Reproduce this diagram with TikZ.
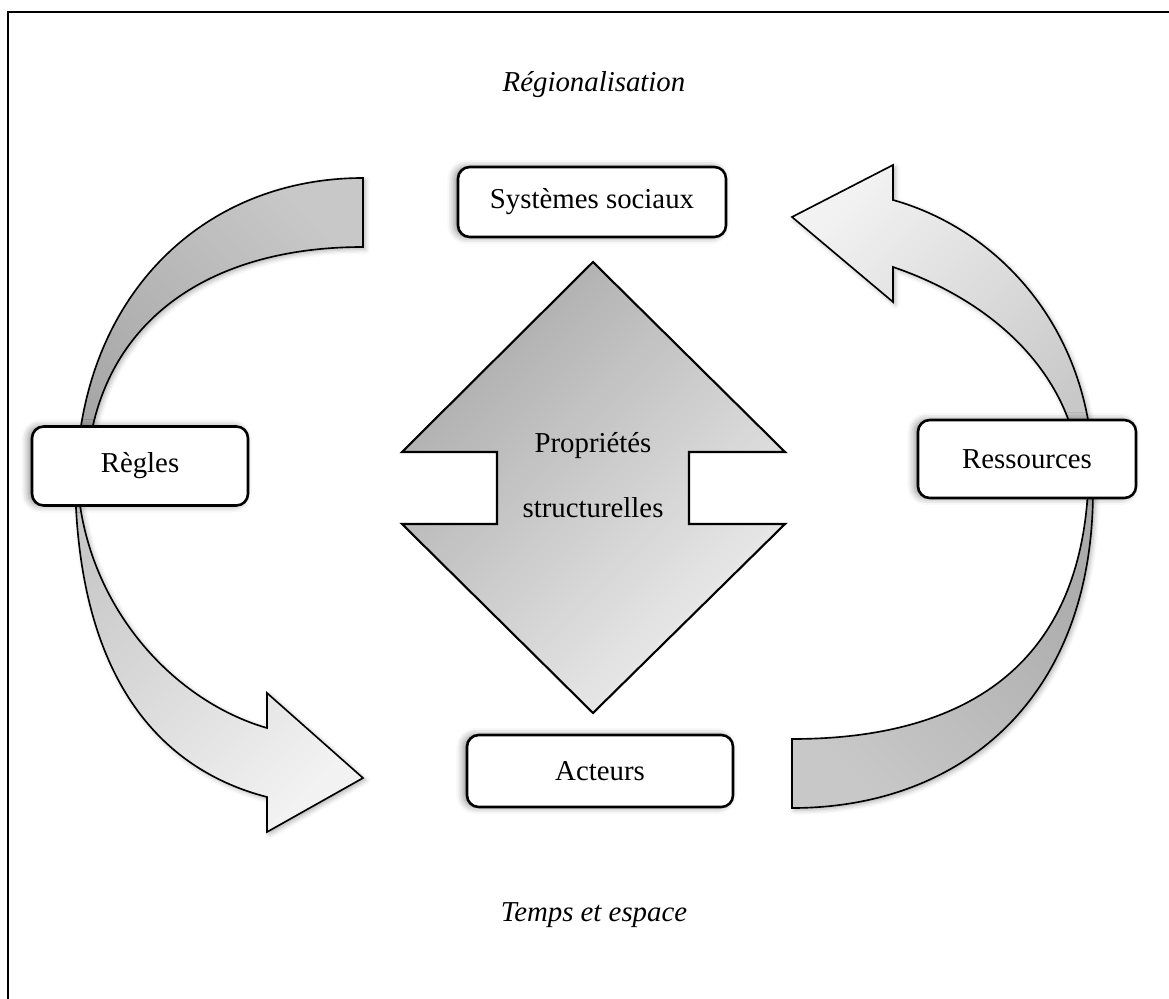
\documentclass[tikz,border=0pt]{standalone}
\usepackage{fontspec}
\setmainfont{Liberation Serif}
\usetikzlibrary{positioning,shadows.blur}
\definecolor{grisA}{HTML}{A6A6A6}
\definecolor{grisB}{HTML}{C8C8C8}
\definecolor{grisC}{HTML}{F2F2F2}
\definecolor{grisD}{HTML}{ABABAB}
\definecolor{grisE}{HTML}{EEEEEE}

\begin{document}
\begin{tikzpicture}
[x=0.015cm,y=-0.015cm,
 box/.style = {draw, line width=1.1pt, rounded corners=5pt, fill=white, inner sep=0pt,
   font=\fontsize{12.3}{15}\selectfont,
   blur shadow={shadow xshift=-1.5pt, shadow yshift=0pt, shadow blur radius=3pt, shadow opacity=45}},
 band/.style = {draw, line width=0.7pt,
   blur shadow={shadow xshift=1pt, shadow yshift=-1pt, shadow blur radius=2pt, shadow opacity=30}},
 legend/.style = {font=\itshape\fontsize{12.3}{15}\selectfont},]
\useasboundingbox (0,0) rectangle (1169,999);
\draw[line width=1pt] (8,999) -- (8,12) -- (1169,12);
% bandes de gauche
\path[band, top color=grisB, bottom color=grisA, shading angle=-45]
  (363,178) .. controls (200,178) and (76,300) .. (76,490) -- (86,490)
  .. controls (86,330) and (200,247) .. (363,247) -- cycle;
\path[band, top color=grisB, bottom color=grisC, shading angle=45]
  (75,470) .. controls (75,690) and (170,772) .. (267,797) -- (267,832) -- (363,778)
  -- (267,693) -- (267,728) .. controls (170,700) and (80,600) .. (77,470) -- cycle;
% bandes de droite
\path[band, top color=grisC, bottom color=grisB, shading angle=45]
  (893,200) .. controls (1000,230) and (1090,330) .. (1093,470) -- (1080,470)
  .. controls (1070,370) and (990,300) .. (893,267) -- (893,302) -- (792,217)
  -- (893,165) -- cycle;
\path[band, top color=grisD, bottom color=grisB, shading angle=-45]
  (1093,490) .. controls (1093,700) and (960,808) .. (792,808) -- (792,739)
  .. controls (960,739) and (1078,670) .. (1088,490) -- cycle;
% double fleche centrale
\path[draw, line width=0.9pt, top color=grisD, bottom color=grisE, shading angle=45]
  (593,262) -- (785,452) -- (689,452) -- (689,524) -- (785,524) -- (593,713)
  -- (402,524) -- (497,524) -- (497,452) -- (402,452) -- cycle;
\node (prop) at (593,475) [align=center, font=\fontsize{12.3}{27.7}\selectfont]
  {Propriétés\\structurelles};
% boites
\node (sys) at (592,202) [box, minimum width=4.02cm, minimum height=1.05cm] {Systèmes sociaux};
\node (act) at (600,771) [box, minimum width=3.99cm, minimum height=1.08cm] {Acteurs};
\node (reg) at (140,466) [box, minimum width=3.24cm, minimum height=1.185cm] {Règles};
\node (res) at (1027,459) [box, minimum width=3.27cm, minimum height=1.17cm] {Ressources};
\node (regio) at (594,85) [legend] {Régionalisation};
\node (temps) at (594,915) [legend] {Temps et espace};
\end{tikzpicture}
\end{document}
